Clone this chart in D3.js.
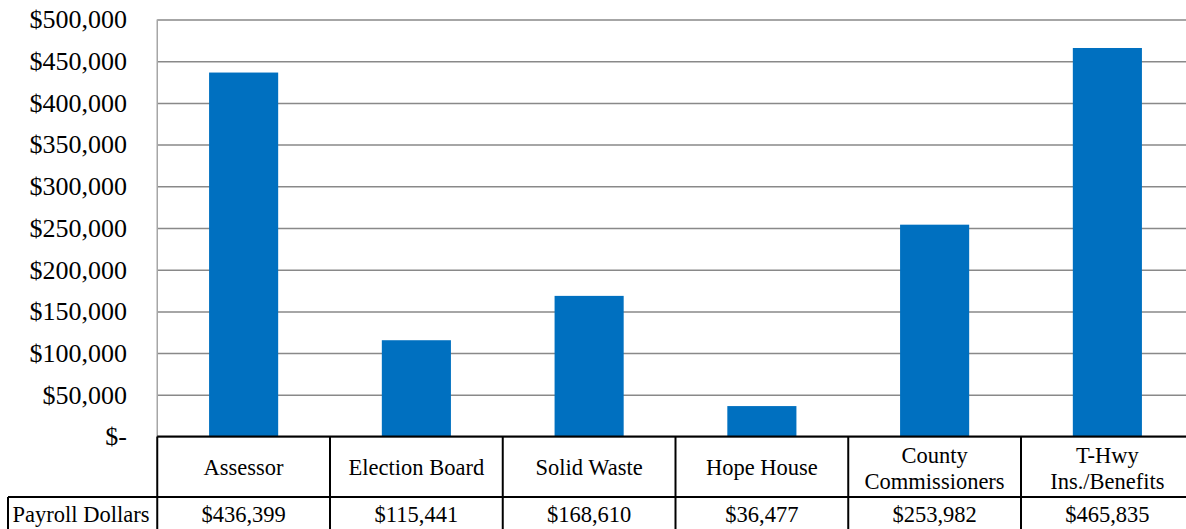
<!DOCTYPE html>
<html><head><meta charset="utf-8">
<script src="https://cdn.jsdelivr.net/npm/d3@7/dist/d3.min.js"></script>
<style>html,body{margin:0;padding:0;background:#fff;overflow:hidden}</style>
</head><body><svg id="c" width="1186" height="529"></svg>
<script>
const categories = ["Assessor", "Election Board", "Solid Waste", "Hope House", "County Commissioners", "T-Hwy Ins./Benefits"];
const categoryLines = [["Assessor"], ["Election Board"], ["Solid Waste"], ["Hope House"], ["County", "Commissioners"], ["T-Hwy", "Ins./Benefits"]];
const seriesName = "Payroll Dollars";
const payroll = [436399, 115441, 168610, 36477, 253982, 465835];
const yTicks = [0, 50000, 100000, 150000, 200000, 250000, 300000, 350000, 400000, 450000, 500000];

const svg = d3.select("#c");
const L = 157.25, R = 1193.75, T = 19.5, B = 436.5;
const font = "'Liberation Serif','Times New Roman',serif";

const x = d3.scaleBand().domain(categories).range([L, R]).paddingInner(0.6).paddingOuter(0.3);
const y = d3.scaleLinear().domain([0, 500000]).range([B, T]);
const step = x.step();
const fmt = d3.format(",");
const money = d => d === 0 ? "$-" : "$" + fmt(d);

// gridlines
const grid = svg.append("g").attr("transform", `translate(${L},0)`)
  .call(d3.axisLeft(y).tickValues(yTicks).tickSize(-(R - L)).tickFormat(""));
grid.select(".domain").remove();
grid.selectAll(".tick line").attr("stroke", "#898989").attr("stroke-width", 1.5);
// left plot border
svg.append("line").attr("x1", L).attr("x2", L).attr("y1", T).attr("y2", B)
  .attr("stroke", "#a6a6a6").attr("stroke-width", 1.5);

// y labels
const ya = svg.append("g").attr("transform", `translate(127,0)`)
  .call(d3.axisLeft(y).tickValues(yTicks).tickSize(0).tickPadding(0).tickFormat(money));
ya.select(".domain").remove();
ya.selectAll("text").attr("font-family", font).attr("font-size", 26).attr("fill", "#000").attr("dy", "0.32em");

// bars
svg.append("g").selectAll("rect").data(categories).join("rect")
  .attr("x", d => x(d)).attr("width", x.bandwidth())
  .attr("y", (d, i) => y(payroll[i])).attr("height", (d, i) => B - y(payroll[i]))
  .attr("fill", "#0070C0");

// table
const rowMid = 497, rowBot = 531, tbl = svg.append("g");
const lineAttr = s => s.attr("stroke", "#000").attr("stroke-width", 2);
tbl.append("line").attr("x1", L).attr("x2", R).attr("y1", B).attr("y2", B).call(lineAttr);
tbl.append("line").attr("x1", 8).attr("x2", R).attr("y1", rowMid).attr("y2", rowMid).call(lineAttr);
tbl.append("line").attr("x1", 8).attr("x2", R).attr("y1", rowBot).attr("y2", rowBot).call(lineAttr);
tbl.append("line").attr("x1", 8).attr("x2", 8).attr("y1", rowMid).attr("y2", rowBot).call(lineAttr);
d3.range(categories.length + 1).forEach(i => {
  tbl.append("line").attr("x1", L + i * step).attr("x2", L + i * step).attr("y1", B).attr("y2", rowBot).call(lineAttr);
});

// header labels
categories.forEach((c, i) => {
  const cx = x(c) + x.bandwidth() / 2;
  const lines = categoryLines[i];
  const t = tbl.append("text").attr("text-anchor", "middle").attr("font-family", font)
    .attr("font-size", 22.5).attr("fill", "#000");
  const y0 = lines.length === 1 ? 467 : 455;
  lines.forEach((ln, j) => {
    t.append("tspan").attr("x", cx).attr("y", y0 + j * 26).attr("dy", "0.35em").text(ln);
  });
  tbl.append("text").attr("x", cx).attr("y", 514).attr("dy", "0.35em").attr("text-anchor", "middle")
    .attr("font-family", font).attr("font-size", 22.5).attr("fill", "#000").text(money(payroll[i]));
});
tbl.append("text").attr("x", 81).attr("y", 514).attr("dy", "0.35em").attr("text-anchor", "middle")
  .attr("font-family", font).attr("font-size", 22.5).attr("fill", "#000").text(seriesName);
</script></body></html>
